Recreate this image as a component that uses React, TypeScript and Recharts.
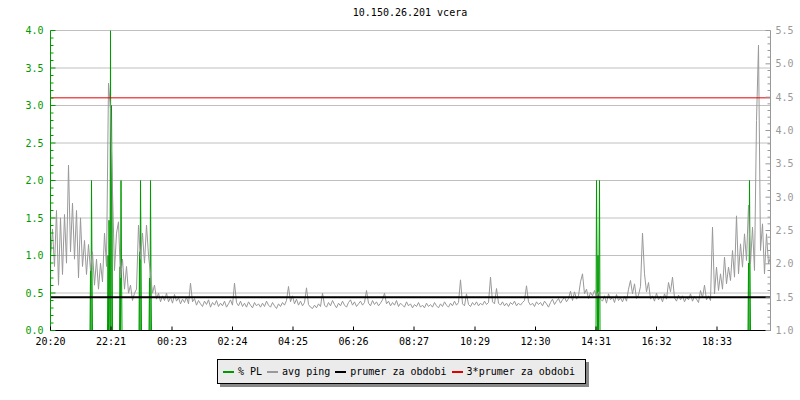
import { ComposedChart, Line, XAxis, YAxis, CartesianGrid, ReferenceLine } from "recharts";

const TITLE = "10.150.26.201 vcera";
const FONT = "DejaVu Sans Mono";
const GREEN = "#009a00";
const GRAY = "#999999";

// avg ping [ms], one sample every 4 minutes from 20:20
const SAMPLE_MIN = 4;
const PING_EVENING = [
  2.07, 2.52, 1.96, 2.8, 1.68, 2.69, 1.84, 2.74, 2.01, 3.48,
  2.18, 2.91, 2.07, 2.8, 1.79, 2.69, 1.96, 2.35, 1.84, 2.29,
  1.9, 2.18, 1.68, 2.07, 1.62, 2.01, 1.73, 2.46, 1.96, 4.71,
  4.32, 3.08, 1.9, 2.46, 2.63, 1.79, 2.07, 1.62, 1.96, 1.56,
  1.68, 1.45, 1.56, 1.62, 2.58, 2.07, 2.46, 2.01, 2.58, 2.13,
  1.84, 1.56, 1.68, 1.47, 1.56, 1.43,
];
const PING_NIGHT = [
  1.52, 1.45, 1.56, 1.43, 1.5, 1.41, 1.54, 1.44, 1.49, 1.4,
  1.47, 1.42, 1.5, 1.4, 1.71, 1.43, 1.48, 1.38, 1.45, 1.4,
  1.36, 1.44, 1.39, 1.46, 1.35, 1.42, 1.38, 1.45, 1.36, 1.41,
  1.37, 1.44, 1.35, 1.4, 1.46, 1.38, 1.71, 1.42, 1.37, 1.44,
  1.36, 1.41, 1.35, 1.43, 1.38, 1.34, 1.42, 1.37, 1.4, 1.35,
  1.41, 1.36, 1.44, 1.38, 1.35, 1.42, 1.37, 1.33, 1.4, 1.36,
  1.42, 1.38, 1.45, 1.66, 1.43, 1.52, 1.4, 1.47, 1.38, 1.44,
  1.37, 1.42, 1.64, 1.39, 1.35, 1.33, 1.38, 1.34, 1.4, 1.36,
  1.56, 1.38, 1.35, 1.42, 1.37, 1.45, 1.39, 1.34, 1.41, 1.37,
  1.44, 1.38, 1.35, 1.42, 1.46, 1.38, 1.43, 1.36, 1.4, 1.44,
  1.38, 1.42, 1.6, 1.41, 1.37, 1.45, 1.39, 1.43, 1.37, 1.41,
  1.46, 1.56, 1.4, 1.44, 1.37, 1.42, 1.38, 1.45, 1.36, 1.41,
  1.38, 1.35, 1.43, 1.37, 1.4, 1.34, 1.39, 1.36, 1.42, 1.35,
  1.38, 1.34, 1.41, 1.36, 1.39, 1.35, 1.42, 1.37, 1.34, 1.4,
  1.36, 1.43, 1.38, 1.35, 1.41, 1.37, 1.44, 1.38, 1.42, 1.76,
  1.4, 1.37, 1.55, 1.39, 1.36, 1.42, 1.38, 1.43, 1.37, 1.41,
  1.38, 1.44, 1.39, 1.42, 1.8, 1.43, 1.4, 1.63, 1.41, 1.38,
  1.43, 1.37, 1.41, 1.36, 1.42, 1.39, 1.44, 1.37, 1.41, 1.38,
  1.42, 1.45, 1.67, 1.43, 1.38, 1.41, 1.36, 1.43, 1.39, 1.42,
  1.37, 1.44, 1.4, 1.35, 1.42, 1.47, 1.39, 1.44, 1.48, 1.41,
  1.46, 1.5, 1.43, 1.48, 1.59, 1.45, 1.58, 1.47, 1.52, 1.73,
];
const PING_DAY = [
  1.85, 1.55, 1.62, 1.48, 1.57, 1.52, 1.6, 1.5, 1.58, 1.47,
  1.44, 1.52, 1.41, 1.55, 1.46, 1.5, 1.42, 1.54, 1.45, 1.49,
  1.43, 1.51, 1.44, 1.62, 1.75, 1.55, 1.7, 1.48, 1.53, 1.66,
  2.46, 1.85, 1.58, 1.72, 1.47, 1.52, 1.44, 1.56, 1.46, 1.51,
  1.43, 1.55, 1.47, 1.72, 1.58, 1.8, 1.49, 1.44, 1.53, 1.46,
  1.52, 1.43, 1.5, 1.46, 1.55, 1.44, 1.51, 1.47, 1.42, 1.6,
  1.49, 1.68, 1.46, 1.52, 1.45, 2.55, 1.55, 1.95, 1.6, 1.85,
  1.62, 2.1, 1.7, 1.95, 1.75, 2.2, 1.8, 2.72, 1.85, 2.3,
  1.95, 2.45, 2.05, 2.88, 2.0, 2.55, 1.9, 4.15, 5.28, 2.2,
  2.6, 1.85, 2.45, 2.0, 2.1,
];
const PING_AVG = 1.497;
const PING_AVG3 = 4.49;

// % packet loss, per-minute bursts (minute of first sample, values)
const PL_START = [79, 114, 138, 177, 197, 1091, 1395];
const PL_BURSTS = [
  [0, 0.8, 0, 2.0, 0.8, 0],
  [0, 1.0, 0, 1.47, 0.9, 0, 4.0, 0, 3.0, 1.9, 0],
  [0, 0.85, 0, 2.0, 0.85, 0],
  [0, 1.05, 0, 2.0, 1.05, 0],
  [0, 0.7, 0, 2.0, 0.7, 0],
  [0, 2.0, 1.0, 0, 1.0, 0, 1.0, 2.0, 0],
  [0, 0.9, 0, 2.0, 0.9, 0],
];

const X_TICK_MIN = [0, 121, 243, 364, 485, 606, 727, 849, 970, 1091, 1212, 1333];
const X_TICK_LABELS = ["20:20", "22:21", "00:23", "02:24", "04:25", "06:26", "08:27", "10:29", "12:30", "14:31", "16:32", "18:33"];
const PL_TICKS = Array.from({ length: 41 }, (_, i) => i / 10);
const PING_TICKS = Array.from({ length: 46 }, (_, i) => (10 + i) / 10);
const GRID_VALUES = [0.5, 1, 1.5, 2, 2.5, 3, 3.5, 4];

const LEGEND_LABELS = ["% PL", "avg ping", "prumer za obdobi", "3*prumer za obdobi"];
const LEGEND_COLORS = [GREEN, GRAY, "#000000", "#e00000"];

const pingData = [...PING_EVENING, ...PING_NIGHT, ...PING_DAY].map((v, i) => ({ t: i * SAMPLE_MIN, ping: v }));

const plData: { t: number; pl: number | null }[] = [];
PL_START.forEach((s, b) => {
  PL_BURSTS[b].forEach((v, k) => plData.push({ t: s + k, pl: v }));
  plData.push({ t: s + PL_BURSTS[b].length, pl: null });
});

const isMajor = (v: number) => Math.round(v * 10) % 5 === 0;

function LeftTick(props: any) {
  const { x, y, payload } = props;
  const v = payload.value;
  const major = isMajor(v);
  return (
    <g>
      <line x1={x} x2={x + (major ? 5 : 3)} y1={y} y2={y} stroke={GREEN} />
      {major && (
        <text x={x - 7} y={y} dy={3.5} textAnchor="end" fill={GREEN} fontSize={10} fontFamily={FONT}>
          {v.toFixed(1)}
        </text>
      )}
    </g>
  );
}

function RightTick(props: any) {
  const { x, y, payload } = props;
  const v = payload.value;
  const major = isMajor(v);
  return (
    <g>
      <line x1={x} x2={x - (major ? 5 : 3)} y1={y} y2={y} stroke={GRAY} />
      {major && (
        <text x={x + 5} y={y} dy={3.5} textAnchor="start" fill={GRAY} fontSize={10} fontFamily={FONT}>
          {v.toFixed(1)}
        </text>
      )}
    </g>
  );
}

function TimeTick(props: any) {
  const { x, y, payload } = props;
  return (
    <g>
      <line x1={x} x2={x} y1={y} y2={y - 4} stroke="#000" />
      <text x={x} y={y + 14} textAnchor="middle" fill="#000" fontSize={10} fontFamily={FONT}>
        {X_TICK_LABELS[X_TICK_MIN.indexOf(payload.value)]}
      </text>
    </g>
  );
}

export default function App() {
  return (
    <div style={{ position: "absolute", left: 0, top: 0, width: 800, height: 400, background: "#fff" }}>
      <div
        style={{
          position: "absolute", left: 310, top: 6, width: 200, textAlign: "center",
          fontFamily: FONT, fontSize: 10, lineHeight: "14px", color: "#000",
        }}
      >
        {TITLE}
      </div>
      <ComposedChart width={800} height={400} data={pingData} margin={{ top: 30.5, right: 0, bottom: 39.5, left: 0 }}>
        <CartesianGrid yAxisId="pl" vertical={false} horizontalValues={GRID_VALUES} stroke="#c0c0c0" />
        <XAxis
          dataKey="t" type="number" domain={[0, 1440]} ticks={X_TICK_MIN} interval={0}
          allowDataOverflow height={30} stroke="#000" tickLine={false} tickSize={0} tickMargin={0}
          tick={<TimeTick />}
        />
        <YAxis
          yAxisId="pl" orientation="left" width={50.5} domain={[0, 4]} ticks={PL_TICKS} interval={0}
          allowDataOverflow stroke={GREEN} tickLine={false} tickSize={0} tickMargin={0} tick={<LeftTick />}
        />
        <YAxis
          yAxisId="ping" orientation="right" width={29.5} domain={[1, 5.5]} ticks={PING_TICKS} interval={0}
          allowDataOverflow stroke={GRAY} tickLine={false} tickSize={0} tickMargin={0} tick={<RightTick />}
        />
        <Line
          yAxisId="pl" data={plData} dataKey="pl" type="linear" stroke={GREEN} strokeWidth={1}
          dot={false} activeDot={false} isAnimationActive={false} connectNulls={false}
        />
        <Line
          yAxisId="ping" dataKey="ping" type="linear" stroke={GRAY} strokeWidth={1}
          dot={false} activeDot={false} isAnimationActive={false}
        />
        <ReferenceLine yAxisId="ping" y={PING_AVG} stroke="#000" strokeWidth={2} />
        <ReferenceLine yAxisId="ping" y={PING_AVG3} stroke="#e00000" strokeWidth={1} />
      </ComposedChart>
      <div
        style={{
          position: "absolute", left: 217, top: 359, width: 362, height: 23,
          border: "1px solid #000", background: "#ebebeb", boxShadow: "3px 3px 0 #888",
          display: "flex", alignItems: "center", paddingLeft: 5, boxSizing: "content-box",
          fontFamily: FONT, fontSize: 10, color: "#000", whiteSpace: "pre",
        }}
      >
        {LEGEND_LABELS.map((label, i) => (
          <div key={label} style={{ display: "flex", alignItems: "center", marginRight: 5 }}>
            <span style={{ display: "inline-block", width: 11, height: 2, background: LEGEND_COLORS[i], marginRight: 4 }} />
            <span>{label}</span>
          </div>
        ))}
      </div>
    </div>
  );
}
